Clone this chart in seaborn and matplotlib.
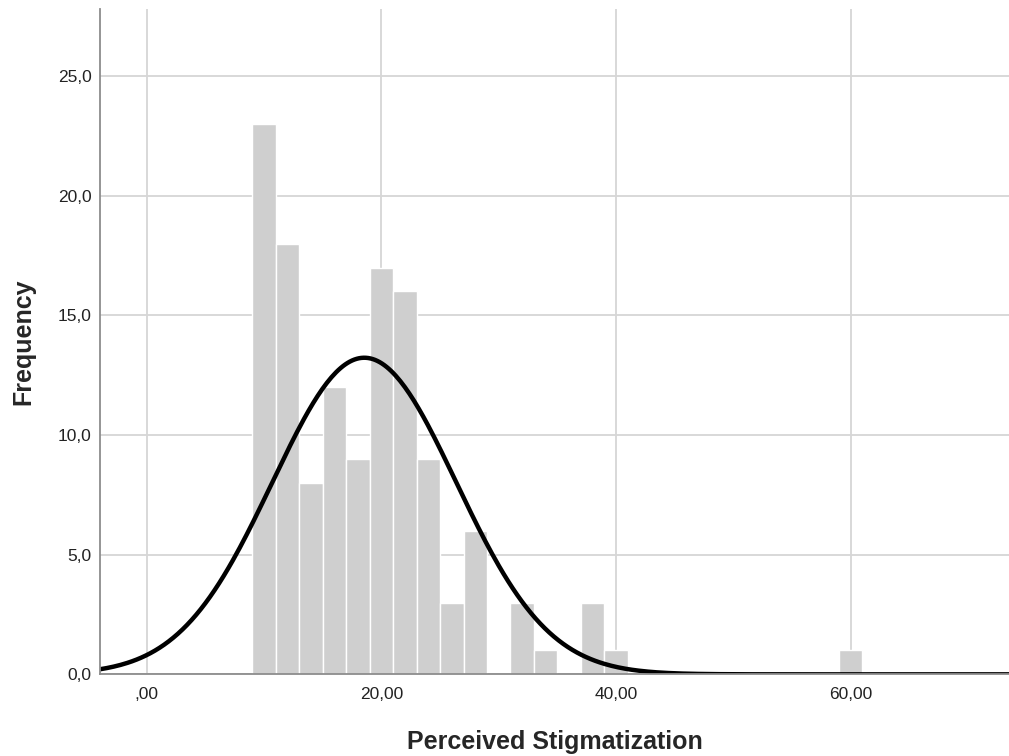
import matplotlib
matplotlib.use("Agg")
import matplotlib.pyplot as plt
import numpy as np
import pandas as pd
import seaborn as sns

# histogram (bin width 2)
bin_left = [9, 11, 13, 15, 17, 19, 21, 23, 25, 27, 29, 31, 33, 35, 37, 39, 59]
counts = [23, 18, 8, 12, 9, 17, 16, 9, 3, 6, 0, 3, 1, 0, 3, 1, 1]
BIN_W = 2
x_ticks = [0, 20, 40, 60]
x_tick_labels = [",00", "20,00", "40,00", "60,00"]
y_ticks = [0, 5, 10, 15, 20, 25]
y_tick_labels = ["0,0", "5,0", "10,0", "15,0", "20,0", "25,0"]

sns.set_style("white")
plt.rcParams['font.family'] = ['Liberation Sans', 'DejaVu Sans']

df = pd.DataFrame({"score": np.array(bin_left) + BIN_W / 2, "count": counts})
edges = list(range(9, 63, BIN_W))

# normal curve from the binned data
n = df["count"].sum()
mu = (df["score"] * df["count"]).sum() / n
sd = np.sqrt(((df["score"] - mu) ** 2 * df["count"]).sum() / n)
xs = np.linspace(-4, 74, 400)
ys = n * BIN_W * np.exp(-0.5 * ((xs - mu) / sd) ** 2) / (sd * np.sqrt(2 * np.pi))

fig = plt.figure(figsize=(10.09, 7.56), dpi=100)
ax = fig.add_axes([0.099, 0.108, 0.901, 0.88])

ax.grid(True, color="#d6d6d6", linewidth=1.3)
ax.set_axisbelow(True)
sns.histplot(data=df, x="score", weights="count", bins=edges, color="#cfcfcf", alpha=1,
             edgecolor="white", linewidth=1, ax=ax)
sns.lineplot(x=xs, y=ys, color="black", linewidth=3.2, ax=ax)

ax.set_xlim(-4, 73.5)
ax.set_ylim(0, 27.8)
ax.set_xticks(x_ticks)
ax.set_xticklabels(x_tick_labels)
ax.set_yticks(y_ticks)
ax.set_yticklabels(y_tick_labels)
ax.tick_params(axis="both", length=0, labelsize=12.5, labelcolor="#222222")
ax.tick_params(axis="x", pad=9)
ax.tick_params(axis="y", pad=6)

for s in ["top", "right"]:
    ax.spines[s].set_visible(False)
for s in ["left", "bottom"]:
    ax.spines[s].set_color("#8c8c8c")
    ax.spines[s].set_linewidth(1.3)

ax.set_xlabel("Perceived Stigmatization", fontsize=18, fontweight="bold", labelpad=20)
ax.set_ylabel("Frequency", fontsize=18, fontweight="bold", labelpad=16)

fig.savefig("out.png", dpi=100)
